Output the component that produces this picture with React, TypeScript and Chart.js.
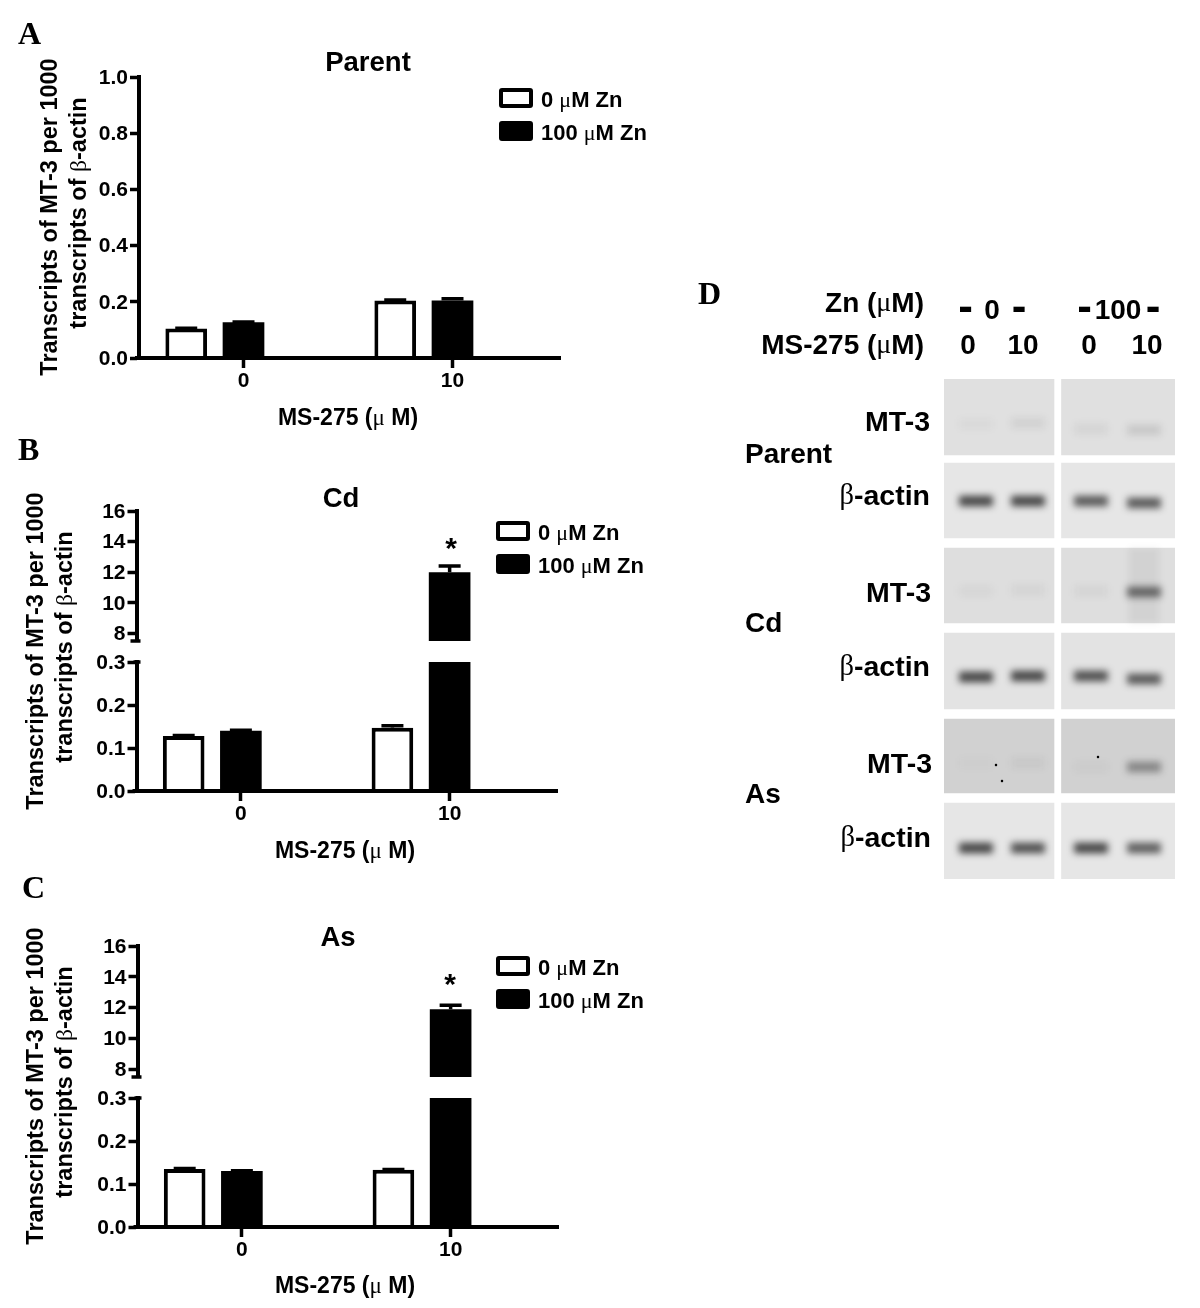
import React, { useEffect, useRef } from "react";
import { Chart, registerables } from "chart.js";

Chart.register(...registerables);

// ---------- data ----------
const categories = ["0", "10"];
const legendLabels = ["0 μM Zn", "100 μM Zn"];
const yTitleLines = ["Transcripts of MT-3 per 1000", "transcripts of β-actin"];
const xTitle = "MS-275 (μ M)";

const parentZn0 = [0.105, 0.205];
const parentZn100 = [0.127, 0.205];
const parentZn0Err = [0.106, 0.206];
const parentZn100Err = [0.128, 0.211];

const cdZn0 = [0.128, 0.147];
const cdZn100 = [0.14, 12.0];
const cdZn0Err = [0.129, 0.152];
const cdZn100Err = [0.141, 12.4];

const asZn0 = [0.135, 0.133];
const asZn100 = [0.13, 11.9];
const asZn0Err = [0.136, 0.134];
const asZn100Err = [0.131, 12.15];

const ticksParent = [0, 0.2, 0.4, 0.6, 0.8, 1.0];
const ticksLow = [0, 0.1, 0.2, 0.3];
const ticksHigh = [8, 10, 12, 14, 16];

const gelRows = ["Parent MT-3", "Parent β-actin", "Cd MT-3", "Cd β-actin", "As MT-3", "As β-actin"];
const gelLanes = [32, 84, 147, 200];
const gelRowSpans = [[0, 76], [84, 159], [169, 244], [254, 330], [340, 414], [424, 500]];
const gelRowShades = ["#e0e0e0", "#e6e6e6", "#dedede", "#e3e3e3", "#d1d1d1", "#e6e6e6"];
const gelMigration = [
  [45, 44, 50, 51],
  [122, 122, 122, 124],
  [212, 211, 212, 213],
  [298, 297, 297, 300],
  [384, 384, 388, 388],
  [469, 469, 469, 469],
];
const gelIntensity = [
  [0.03, 0.07, 0.06, 0.12],
  [0.8, 0.8, 0.7, 0.7],
  [0.04, 0.05, 0.05, 0.62],
  [0.8, 0.8, 0.75, 0.7],
  [0.02, 0.05, 0.03, 0.42],
  [0.8, 0.75, 0.8, 0.68],
];
const gelSpecks = [{ x: 58, y: 402 }, { x: 154, y: 378 }, { x: 52, y: 386 }];

// ---------- text helpers ----------
const SANS = '"Liberation Sans"';
const SERIF = '"Liberation Serif"';

type TextItem = {
  text: string;
  x: number;
  y: number;
  size: number;
  align?: "left" | "center" | "right";
  rotate?: boolean;
  serif?: boolean;
};

function drawRich(ctx: CanvasRenderingContext2D, it: TextItem) {
  const runs = it.text.split(/([μβ])/).filter((s) => s.length > 0);
  const fontFor = (r: string) =>
    it.serif
      ? `bold ${it.size}px ${SERIF}`
      : /[μβ]/.test(r)
      ? `${it.size}px ${SERIF}`
      : `bold ${it.size}px ${SANS}`;
  ctx.save();
  const shift = it.serif ? 3 : 2;
  if (it.rotate) ctx.translate(it.x + shift, it.y);
  else ctx.translate(it.x, it.y + shift);
  if (it.rotate) ctx.rotate(-Math.PI / 2);
  ctx.fillStyle = "#000";
  ctx.textBaseline = "middle";
  ctx.textAlign = "left";
  let total = 0;
  for (const r of runs) {
    ctx.font = fontFor(r);
    total += ctx.measureText(r).width;
  }
  let cx = it.align === "right" ? -total : it.align === "left" ? 0 : -total / 2;
  for (const r of runs) {
    ctx.font = fontFor(r);
    ctx.fillText(r, cx, 0);
    cx += ctx.measureText(r).width;
  }
  ctx.restore();
}

const textPlugin = (items: TextItem[]) => ({
  id: "richText",
  afterDraw(chart: any) {
    items.forEach((it) => drawRich(chart.ctx, it));
  },
});

const errorPlugin = (errors: number[][]) => ({
  id: "errorBars",
  afterDatasetsDraw(chart: any) {
    const { ctx } = chart;
    const y = chart.scales.y;
    errors.forEach((errs, i) => {
      const meta = chart.getDatasetMeta(i);
      errs.forEach((e, j) => {
        const v = chart.data.datasets[i].data[j];
        if (e > y.max || v < y.min) return;
        const x = meta.data[j].x;
        ctx.save();
        ctx.strokeStyle = "#000";
        ctx.lineWidth = 3.5;
        ctx.beginPath();
        ctx.moveTo(x, y.getPixelForValue(v));
        ctx.lineTo(x, y.getPixelForValue(e));
        ctx.moveTo(x - 11, y.getPixelForValue(e));
        ctx.lineTo(x + 11, y.getPixelForValue(e));
        ctx.stroke();
        ctx.restore();
      });
    });
  },
});

const legendPlugin = (boxX: number, labelX: number, rowY: number[]) => ({
  id: "zincLegend",
  afterDraw(chart: any) {
    const { ctx } = chart;
    legendLabels.forEach((label, i) => {
      const ds = chart.data.datasets[i];
      ctx.save();
      ctx.fillStyle = ds.backgroundColor;
      ctx.strokeStyle = ds.borderColor;
      ctx.lineWidth = 4;
      ctx.beginPath();
      ctx.roundRect(boxX + 2, rowY[i] - 10, 30, 16, 1);
      ctx.fill();
      ctx.stroke();
      ctx.restore();
      drawRich(ctx, { text: label, x: labelX, y: rowY[i] - 1, size: 22, align: "left" });
    });
  },
});

const breakPlugin = (value: "min" | "max", x0: number, x1: number) => ({
  id: "axisBreak",
  afterDraw(chart: any) {
    const y = chart.scales.y;
    const px = value === "min" ? y.getPixelForValue(y.min) : y.getPixelForValue(y.max);
    const ctx = chart.ctx;
    ctx.save();
    ctx.strokeStyle = "#000";
    ctx.lineWidth = 3.5;
    ctx.beginPath();
    ctx.moveTo(chart.chartArea.left + x0, px);
    ctx.lineTo(chart.chartArea.left + x1, px);
    ctx.stroke();
    ctx.restore();
  },
});

// the x axis line runs a little past the last category band in the figure
const axisTailPlugin = {
  id: "axisTail",
  afterDraw(chart: any) {
    const { ctx, chartArea } = chart;
    ctx.save();
    ctx.strokeStyle = "#000";
    ctx.lineWidth = 4;
    ctx.beginPath();
    ctx.moveTo(chartArea.left - 4, chartArea.bottom);
    ctx.lineTo(chartArea.right + 4, chartArea.bottom);
    ctx.stroke();
    ctx.restore();
  },
};

// ---------- bar panel builder ----------
type BarOpts = {
  canvas: HTMLCanvasElement;
  left: number;
  right: number;
  top: number;
  bottom: number;
  zn0: number[];
  zn100: number[];
  err: number[][];
  yMin: number;
  yMax: number;
  ticks: number[];
  decimals: number;
  showX: boolean;
  plugins: any[];
};

function buildBars(o: BarOpts) {
  const W = o.canvas.width;
  const H = o.canvas.height;
  const yW = 60;
  const xH = o.showX ? 40 : 0;
  const tickFont = { family: SANS, weight: "bold" as const, size: 21 };
  const common = {
    barPercentage: 0.728,
    categoryPercentage: 0.822,
    clip: 0,
    borderColor: "#000",
  };
  return new Chart(o.canvas, {
    type: "bar",
    data: {
      labels: categories,
      datasets: [
        { label: legendLabels[0], data: o.zn0, backgroundColor: "#fff", borderWidth: 4, ...common },
        { label: legendLabels[1], data: o.zn100, backgroundColor: "#000", borderWidth: 0, ...common },
        { label: "", data: [null, null], backgroundColor: "#fff", borderWidth: 0, ...common },
      ],
    },
    options: {
      animation: false,
      responsive: false,
      devicePixelRatio: 1,
      layout: {
        padding: {
          left: o.left - yW,
          right: W - o.right,
          top: o.top,
          bottom: H - o.bottom - xH,
        },
      },
      plugins: { legend: { display: false }, title: { display: false }, tooltip: { enabled: false } },
      scales: {
        x: {
          display: o.showX,
          afterFit: (s: any) => {
            s.height = xH;
          },
          grid: { offset: false, drawOnChartArea: false, tickLength: 10, tickWidth: 3.5, tickColor: "#000" },
          border: { width: 4, color: "#000" },
          ticks: { color: "#000", font: tickFont, padding: 1, maxRotation: 0, autoSkip: false },
        },
        y: {
          min: o.yMin,
          max: o.yMax,
          afterFit: (s: any) => {
            s.width = yW;
          },
          afterBuildTicks: (s: any) => {
            s.ticks = o.ticks.map((value) => ({ value }));
          },
          grid: { drawOnChartArea: false, tickLength: 9, tickWidth: 3.5, tickColor: "#000" },
          border: { width: 4, color: "#000" },
          ticks: {
            color: "#000",
            font: tickFont,
            padding: 2,
            labelOffset: 1,
            callback: (v: any) => Number(v).toFixed(o.decimals),
          },
        },
      },
    } as any,
    plugins: [errorPlugin(o.err), ...o.plugins],
  });
}

function yTitle(x1: number, x2: number, c1: number, c2: number): TextItem[] {
  return [
    { text: yTitleLines[0], x: x1, y: c1, size: 23.5, rotate: true },
    { text: yTitleLines[1], x: x2, y: c2, size: 23.5, rotate: true },
  ];
}

// ---------- gel panel ----------
function buildGel(canvas: HTMLCanvasElement) {
  const left = 254;
  const top = 109;
  const W = canvas.width;
  const H = canvas.height;
  const panel = (cx: number, thick: number, order: number) => ({
    label: "gel",
    data: gelRowSpans.map((s) => ({ x: cx, y: s })),
    backgroundColor: gelRowShades,
    barThickness: thick,
    grouped: false,
    order,
  });
  const bands = gelMigration.flatMap((row, r) =>
    row.map((m, l) => ({ x: gelLanes[l], y: [m - 5, m + 5], i: gelIntensity[r][l] }))
  );
  const S = 28.5;
  const items: TextItem[] = [
    { text: "D", x: 8, y: 23, size: 32, align: "left", serif: true },
    { text: "Zn (μM)", x: 234, y: 32, size: 28, align: "right" },
    { text: "MS-275 (μM)", x: 234, y: 74, size: 28, align: "right" },
    { text: "-", x: 275.5, y: 37, size: 44 },
    { text: "0", x: 302, y: 39, size: 28 },
    { text: "-", x: 329, y: 37, size: 44 },
    { text: "-", x: 394.5, y: 37, size: 44 },
    { text: "100", x: 428, y: 39, size: 28 },
    { text: "-", x: 463, y: 37, size: 44 },
    { text: "0", x: 278, y: 74, size: 28 },
    { text: "10", x: 333, y: 74, size: 28 },
    { text: "0", x: 399, y: 74, size: 28 },
    { text: "10", x: 457, y: 74, size: 28 },
    { text: "MT-3", x: 240, y: 151, size: S, align: "right" },
    { text: "β-actin", x: 240, y: 225, size: S, align: "right" },
    { text: "Parent", x: 55, y: 183, size: 28, align: "left" },
    { text: "MT-3", x: 241, y: 322, size: S, align: "right" },
    { text: "β-actin", x: 240, y: 396, size: S, align: "right" },
    { text: "Cd", x: 55, y: 352, size: 28, align: "left" },
    { text: "MT-3", x: 242, y: 493, size: S, align: "right" },
    { text: "β-actin", x: 241, y: 567, size: S, align: "right" },
    { text: "As", x: 55, y: 523, size: 28, align: "left" },
  ];
  return new Chart(canvas, {
    type: "bar",
    data: {
      labels: gelRows,
      datasets: [
        { type: "scatter", label: "specks", data: gelSpecks, pointRadius: 1.2, backgroundColor: "#000", order: 0 },
        {
          label: "bands",
          data: bands,
          backgroundColor: bands.map((b) => `rgba(30,30,30,${b.i})`),
          barThickness: 33,
          grouped: false,
          order: 1,
          blur: 3.5,
        },
        {
          label: "smear",
          data: [{ x: gelLanes[3], y: [gelRowSpans[2][0], gelRowSpans[2][1]] }],
          backgroundColor: "rgba(0,0,0,0.05)",
          barThickness: 30,
          grouped: false,
          order: 2,
          blur: 3,
        },
        panel(55, 110, 3),
        panel(174.5, 114, 4),
      ] as any,
    },
    options: {
      animation: false,
      responsive: false,
      devicePixelRatio: 1,
      layout: { padding: { left, top, right: W - left - 231, bottom: H - top - 500 } },
      plugins: { legend: { display: false }, title: { display: false }, tooltip: { enabled: false } },
      scales: {
        x: { type: "linear", min: 0, max: 231, display: false, offset: false },
        y: { type: "linear", min: 0, max: 500, reverse: true, display: false },
      },
    } as any,
    plugins: [
      {
        id: "gelBlur",
        beforeDatasetDraw(chart: any, args: any) {
          const b = chart.data.datasets[args.index].blur;
          if (b) chart.ctx.filter = `blur(${b}px)`;
        },
        afterDatasetDraw(chart: any) {
          chart.ctx.filter = "none";
        },
      },
      textPlugin(items),
    ],
  });
}

// ---------- component ----------
const abs = (left: number, top: number): React.CSSProperties => ({ position: "absolute", left, top });

export default function App() {
  const aRef = useRef<HTMLCanvasElement>(null);
  const bLowRef = useRef<HTMLCanvasElement>(null);
  const bHighRef = useRef<HTMLCanvasElement>(null);
  const cLowRef = useRef<HTMLCanvasElement>(null);
  const cHighRef = useRef<HTMLCanvasElement>(null);
  const dRef = useRef<HTMLCanvasElement>(null);

  useEffect(() => {
    const bTop = 430;
    const cTop = 866;
    const charts = [
      buildBars({
        canvas: aRef.current!,
        left: 139,
        right: 557,
        top: 77,
        bottom: 358,
        zn0: parentZn0,
        zn100: parentZn100,
        err: [parentZn0Err, parentZn100Err],
        yMin: 0,
        yMax: 1,
        ticks: ticksParent,
        decimals: 1,
        showX: true,
        plugins: [
          axisTailPlugin,
          legendPlugin(499, 541, [100, 133]),
          textPlugin([
            { text: "A", x: 18, y: 33, size: 32, align: "left", serif: true },
            { text: "Parent", x: 368, y: 61, size: 27.5 },
            { text: xTitle, x: 348, y: 417, size: 23 },
            ...yTitle(49, 78, 217, 213),
          ]),
        ],
      }),
      buildBars({
        canvas: bLowRef.current!,
        left: 136.5,
        right: 554,
        top: 662 - bTop,
        bottom: 791 - bTop,
        zn0: cdZn0,
        zn100: cdZn100,
        err: [cdZn0Err, cdZn100Err],
        yMin: 0,
        yMax: 0.3,
        ticks: ticksLow,
        decimals: 1,
        showX: true,
        plugins: [
          axisTailPlugin,
          breakPlugin("max", -3, 4),
          legendPlugin(496, 538, [533 - bTop, 566 - bTop]),
          textPlugin([
            { text: "B", x: 18, y: 449 - bTop, size: 32, align: "left", serif: true },
            { text: "Cd", x: 341, y: 497 - bTop, size: 27.5 },
            { text: xTitle, x: 345, y: 850 - bTop, size: 23 },
            ...yTitle(35, 64, 651 - bTop, 647 - bTop),
          ]),
        ],
      }),
      buildBars({
        canvas: bHighRef.current!,
        left: 136.5,
        right: 554,
        top: 511 - bTop,
        bottom: 641 - bTop,
        zn0: cdZn0,
        zn100: cdZn100,
        err: [cdZn0Err, cdZn100Err],
        yMin: 7.5,
        yMax: 16,
        ticks: ticksHigh,
        decimals: 0,
        showX: false,
        plugins: [
          breakPlugin("min", -6, 4),
          textPlugin([{ text: "*", x: 451, y: 548 - bTop, size: 30 }]),
        ],
      }),
      buildBars({
        canvas: cLowRef.current!,
        left: 137.5,
        right: 555,
        top: 1098 - cTop,
        bottom: 1227 - cTop,
        zn0: asZn0,
        zn100: asZn100,
        err: [asZn0Err, asZn100Err],
        yMin: 0,
        yMax: 0.3,
        ticks: ticksLow,
        decimals: 1,
        showX: true,
        plugins: [
          axisTailPlugin,
          breakPlugin("max", -3, 4),
          legendPlugin(496, 538, [968 - cTop, 1001 - cTop]),
          textPlugin([
            { text: "C", x: 22, y: 887 - cTop, size: 32, align: "left", serif: true },
            { text: "As", x: 338, y: 936 - cTop, size: 27.5 },
            { text: xTitle, x: 345, y: 1285 - cTop, size: 23 },
            ...yTitle(35, 64, 1086 - cTop, 1082 - cTop),
          ]),
        ],
      }),
      buildBars({
        canvas: cHighRef.current!,
        left: 137.5,
        right: 555,
        top: 946 - cTop,
        bottom: 1077 - cTop,
        zn0: asZn0,
        zn100: asZn100,
        err: [asZn0Err, asZn100Err],
        yMin: 7.5,
        yMax: 16,
        ticks: ticksHigh,
        decimals: 0,
        showX: false,
        plugins: [
          breakPlugin("min", -6, 4),
          textPlugin([{ text: "*", x: 450, y: 984 - cTop, size: 30 }]),
        ],
      }),
      buildGel(dRef.current!),
    ];
    return () => charts.forEach((c) => c.destroy());
  }, []);

  return (
    <div style={{ position: "absolute", left: 0, top: 0, width: 1200, height: 1308, background: "#fff", overflow: "hidden" }}>
      <canvas ref={aRef} width={680} height={430} style={abs(0, 0)} />
      <canvas ref={bLowRef} width={680} height={436} style={abs(0, 430)} />
      <canvas ref={bHighRef} width={680} height={436} style={abs(0, 430)} />
      <canvas ref={cLowRef} width={680} height={442} style={abs(0, 866)} />
      <canvas ref={cHighRef} width={680} height={442} style={abs(0, 866)} />
      <canvas ref={dRef} width={500} height={620} style={abs(690, 270)} />
    </div>
  );
}
